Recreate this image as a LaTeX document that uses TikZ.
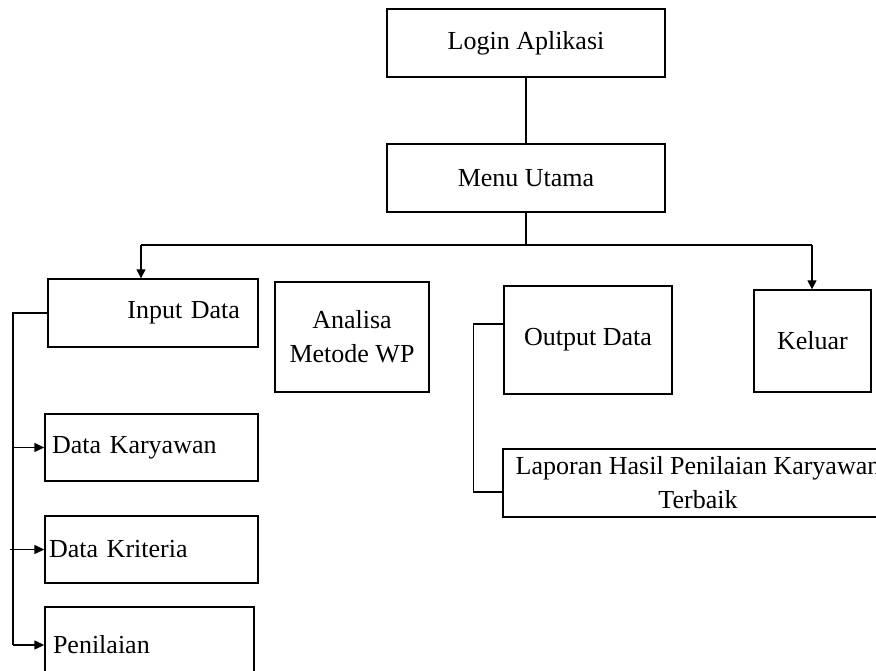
\documentclass[tikz,border=0pt]{standalone}
\usepackage{fontspec}
\setmainfont{Liberation Serif}
\usetikzlibrary{arrows.meta}
\begin{document}
\begin{tikzpicture}[x=1pt,y=-1pt,
  box/.style={draw=black, line width=1.4pt, inner sep=0pt, align=center, font=\fontsize{26}{34}\selectfont},
  link/.style={draw=black, line width=1.4pt},
  arr/.style={link, -{Triangle[length=9pt,width=9pt]}},
  sarr/.style={link, -{Triangle[length=10pt,width=9pt]}}]
\path[use as bounding box] (0,0) rectangle (876,671);
\clip (0,0) rectangle (876,671);

\node[box, minimum width=278pt, minimum height=68pt] (login) at (526,43) {Login Aplikasi};
\node[box, minimum width=278pt, minimum height=68pt] (menu) at (526,178) {Menu Utama};
\node[box, minimum width=210pt, minimum height=68pt, text width=174pt, inner xsep=18pt, align=right] (input) at (153,313) {Input Data};
\node[box, minimum width=154pt, minimum height=110pt] (analisa) at (352,337) {Analisa\\Metode WP};
\node[box, minimum width=168pt, minimum height=108pt] (output) at (588,340) {Output Data};
\node[box, minimum width=117pt, minimum height=102pt] (keluar) at (812.5,341) {Keluar};
\node[box, minimum width=390pt, minimum height=68pt] (laporan) at (698,483) {Laporan Hasil Penilaian Karyawan\\Terbaik};
\node[box, minimum width=213pt, minimum height=67pt, text width=199pt, inner xsep=7pt, align=left] (karyawan) at (151.5,447.5) {Data Karyawan};
\node[box, minimum width=213pt, minimum height=67pt, text width=205pt, inner xsep=4pt, align=left] (kriteria) at (151.5,549.5) {Data Kriteria};
\node[box, minimum width=209pt, minimum height=76pt, text width=193pt, inner xsep=8pt, align=left] (penilaian) at (149.5,645) {Penilaian};

\coordinate (busL) at (141,245);
\coordinate (busR) at (812,245);
\coordinate (spine) at (13,313);

\draw[link] (login) -- (menu);
\draw[link] (menu.south) -- (menu.south |- busL);
\draw[link] (busL) -- (busR);
\draw[arr] (busL) -- (busL |- input.north);
\draw[arr] (busR) -- (busR |- keluar.north);

\draw[link] (input.west) -- (spine) -- (spine |- penilaian.west);
\draw[sarr] (spine |- karyawan.west) -- (karyawan.west);
\draw[sarr] ([xshift=-3pt]spine |- kriteria.west) -- (kriteria.west);
\draw[sarr] (spine |- penilaian.west) -- (penilaian.west);

\draw[link] ([yshift=16pt]output.west) -- ++(-30pt,0) |- ([yshift=-9pt]laporan.west);
\end{tikzpicture}
\end{document}
